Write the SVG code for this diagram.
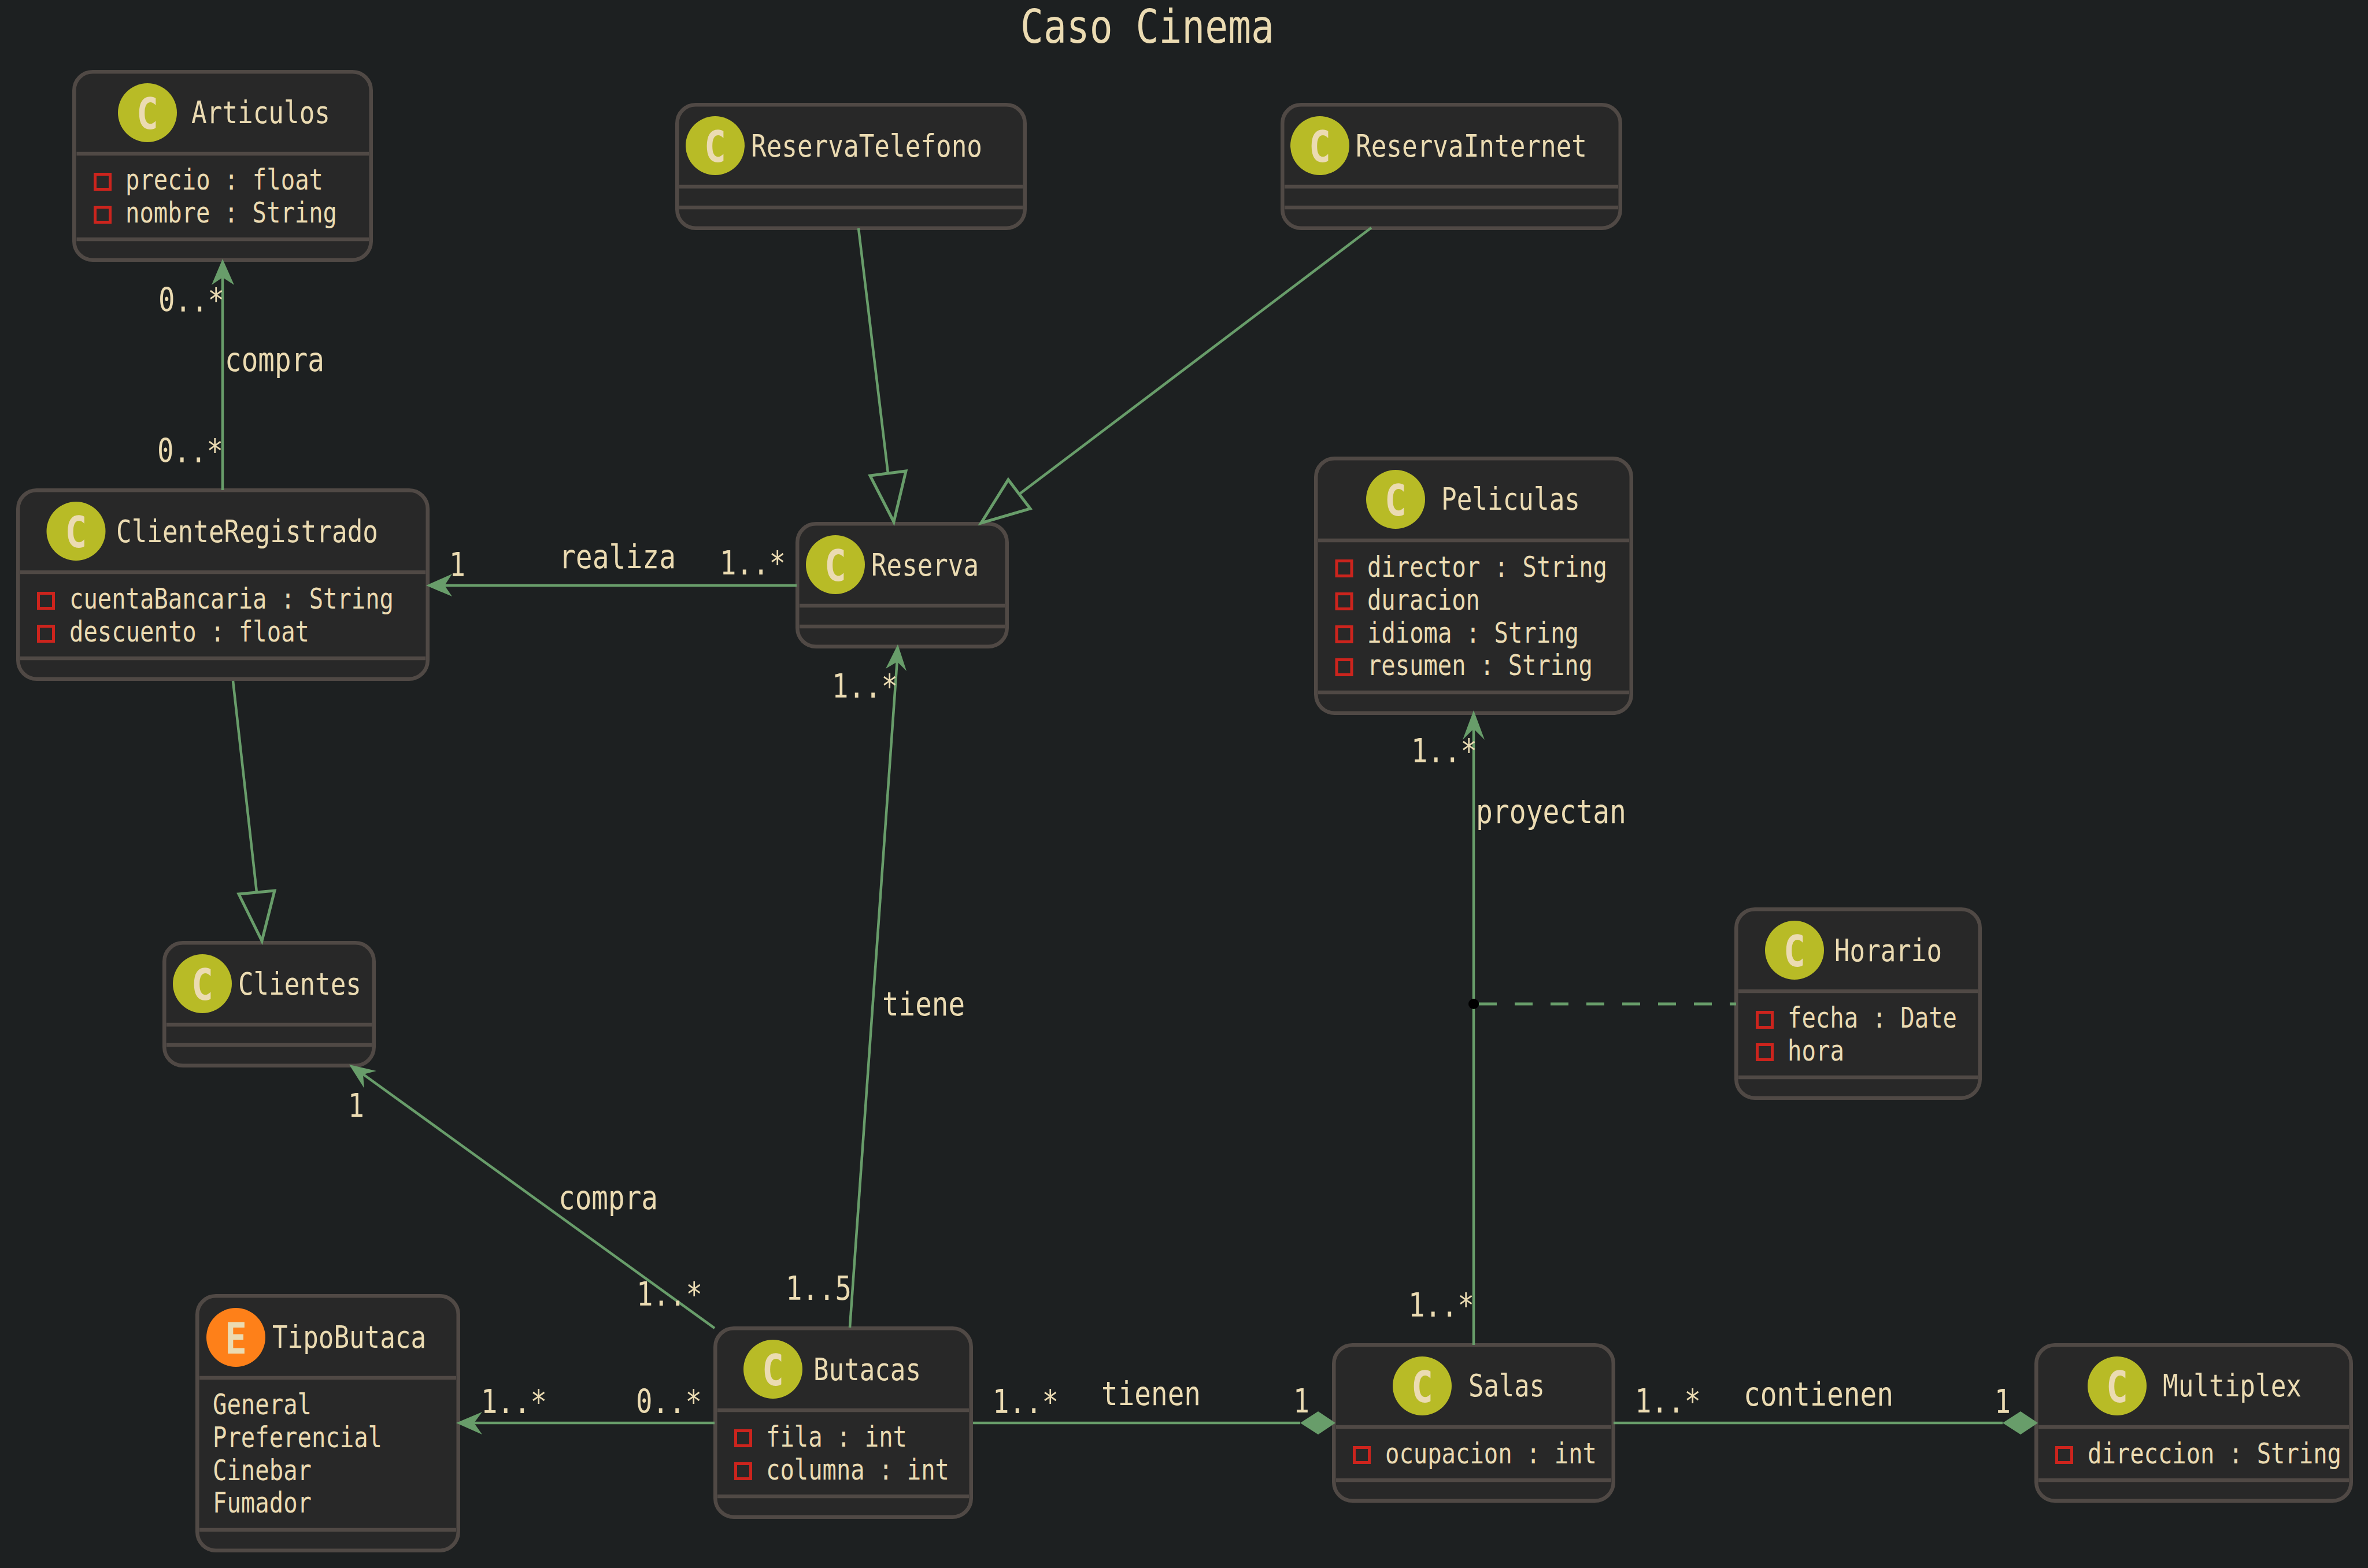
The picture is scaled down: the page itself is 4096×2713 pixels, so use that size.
<svg xmlns="http://www.w3.org/2000/svg" width="4096" height="2713" viewBox="0 0 4096 2713">
<style>
text{font-family:"DejaVu Sans Mono","Liberation Mono",monospace;fill:#ebdbb2}
.box{fill:#282828;stroke:#504945;stroke-width:6.5}
.sep{stroke:#504945;stroke-width:6.5}
.ci{fill:#b8bb26}
.en{fill:#fe8019}
.sp{font-size:75px;font-weight:bold}
.t{font-size:53px}
.a{font-size:49px}
.l{font-size:57px}
.h{font-size:81px}
.i{fill:none;stroke:#cc241d;stroke-width:5}
.c{fill:none;stroke:#689d6a;stroke-width:4.5}
.ah{fill:#689d6a;stroke:none}
.tr{fill:none;stroke:#689d6a;stroke-width:5}
.d{fill:none;stroke:#689d6a;stroke-width:5;stroke-dasharray:31 31}
</style>
<rect width="4096" height="2713" fill="#1d2021"/>
<text class="h" x="1765" y="74" textLength="439" lengthAdjust="spacingAndGlyphs">Caso Cinema</text>

<g id="Articulos">
<rect class="box" x="128.25" y="124.25" width="513.5" height="325.5" rx="32"/>
<path class="sep" d="M132.5 266H638M132.5 414H638"/>
<circle class="ci" cx="255" cy="195" r="51"/>
<text class="sp" x="236" y="223" textLength="38" lengthAdjust="spacingAndGlyphs">C</text>
<text class="t" x="331" y="213" textLength="240" lengthAdjust="spacingAndGlyphs">Articulos</text>
<rect class="i" x="164.5" y="301.5" width="26" height="26"/>
<text class="a" x="217" y="328" textLength="342" lengthAdjust="spacingAndGlyphs">precio : float</text>
<rect class="i" x="164.5" y="358.5" width="26" height="26"/>
<text class="a" x="217" y="385" textLength="366" lengthAdjust="spacingAndGlyphs">nombre : String</text>
</g>

<g id="ClienteRegistrado">
<rect class="box" x="31.25" y="848.25" width="708.5" height="326.5" rx="32"/>
<path class="sep" d="M35 990H736M35 1139H736"/>
<circle class="ci" cx="131.5" cy="919" r="51"/>
<text class="sp" x="112.5" y="947" textLength="38" lengthAdjust="spacingAndGlyphs">C</text>
<text class="t" x="201" y="938" textLength="453" lengthAdjust="spacingAndGlyphs">ClienteRegistrado</text>
<rect class="i" x="66.5" y="1026.5" width="26" height="26"/>
<text class="a" x="120" y="1053" textLength="561" lengthAdjust="spacingAndGlyphs">cuentaBancaria : String</text>
<rect class="i" x="66.5" y="1083.5" width="26" height="26"/>
<text class="a" x="120" y="1110" textLength="415" lengthAdjust="spacingAndGlyphs">descuento : float</text>
</g>

<g id="ReservaTelefono">
<rect class="box" x="1171.25" y="181.25" width="601.5" height="213.5" rx="32"/>
<path class="sep" d="M1175 323H1769M1175 359H1769"/>
<circle class="ci" cx="1237" cy="252" r="51"/>
<text class="sp" x="1218" y="280" textLength="38" lengthAdjust="spacingAndGlyphs">C</text>
<text class="t" x="1299" y="271" textLength="400" lengthAdjust="spacingAndGlyphs">ReservaTelefono</text>
</g>

<g id="ReservaInternet">
<rect class="box" x="2218.25" y="181.25" width="584.5" height="213.5" rx="32"/>
<path class="sep" d="M2222 323H2799M2222 359H2799"/>
<circle class="ci" cx="2283" cy="252" r="51"/>
<text class="sp" x="2264" y="280" textLength="38" lengthAdjust="spacingAndGlyphs">C</text>
<text class="t" x="2345" y="271" textLength="400" lengthAdjust="spacingAndGlyphs">ReservaInternet</text>
</g>

<g id="Reserva">
<rect class="box" x="1379.25" y="906.25" width="362.5" height="212.5" rx="32"/>
<path class="sep" d="M1383 1048H1738M1383 1084H1738"/>
<circle class="ci" cx="1445" cy="977" r="51"/>
<text class="sp" x="1426" y="1005" textLength="38" lengthAdjust="spacingAndGlyphs">C</text>
<text class="t" x="1507" y="996" textLength="186" lengthAdjust="spacingAndGlyphs">Reserva</text>
</g>

<g id="Peliculas">
<rect class="box" x="2276.25" y="793.25" width="545.5" height="440.5" rx="32"/>
<path class="sep" d="M2280 935H2818M2280 1198H2818"/>
<circle class="ci" cx="2414" cy="864" r="51"/>
<text class="sp" x="2395" y="892" textLength="38" lengthAdjust="spacingAndGlyphs">C</text>
<text class="t" x="2493" y="882" textLength="240" lengthAdjust="spacingAndGlyphs">Peliculas</text>
<rect class="i" x="2312" y="970.5" width="26" height="26"/>
<text class="a" x="2365" y="998" textLength="415" lengthAdjust="spacingAndGlyphs">director : String</text>
<rect class="i" x="2312" y="1027.5" width="26" height="26"/>
<text class="a" x="2365" y="1055" textLength="195" lengthAdjust="spacingAndGlyphs">duracion</text>
<rect class="i" x="2312" y="1084.5" width="26" height="26"/>
<text class="a" x="2365" y="1112" textLength="366" lengthAdjust="spacingAndGlyphs">idioma : String</text>
<rect class="i" x="2312" y="1141.5" width="26" height="26"/>
<text class="a" x="2365" y="1168" textLength="390" lengthAdjust="spacingAndGlyphs">resumen : String</text>
</g>

<g id="Horario">
<rect class="box" x="3003.25" y="1573.25" width="421.5" height="326.5" rx="32"/>
<path class="sep" d="M3007 1715H3421M3007 1864H3421"/>
<circle class="ci" cx="3104" cy="1644" r="51"/>
<text class="sp" x="3085" y="1672" textLength="38" lengthAdjust="spacingAndGlyphs">C</text>
<text class="t" x="3173" y="1663" textLength="186" lengthAdjust="spacingAndGlyphs">Horario</text>
<rect class="i" x="3039.5" y="1751.5" width="26" height="26"/>
<text class="a" x="3092" y="1778" textLength="293" lengthAdjust="spacingAndGlyphs">fecha : Date</text>
<rect class="i" x="3039.5" y="1807.5" width="26" height="26"/>
<text class="a" x="3092" y="1835" textLength="98" lengthAdjust="spacingAndGlyphs">hora</text>
</g>

<g id="Clientes">
<rect class="box" x="284.25" y="1631.25" width="362.5" height="212.5" rx="32"/>
<path class="sep" d="M288 1773H643M288 1808H643"/>
<circle class="ci" cx="350" cy="1702" r="51"/>
<text class="sp" x="331" y="1730" textLength="38" lengthAdjust="spacingAndGlyphs">C</text>
<text class="t" x="412" y="1721" textLength="213" lengthAdjust="spacingAndGlyphs">Clientes</text>
</g>

<g id="TipoButaca">
<rect class="box" x="341.25" y="2242.25" width="451.5" height="440.5" rx="32"/>
<path class="sep" d="M345 2384H789M345 2647H789"/>
<circle class="en" cx="408" cy="2314" r="51"/>
<text class="sp" x="389" y="2342" textLength="38" lengthAdjust="spacingAndGlyphs">E</text>
<text class="t" x="471" y="2332" textLength="266" lengthAdjust="spacingAndGlyphs">TipoButaca</text>
<text class="a" x="368" y="2447" textLength="171" lengthAdjust="spacingAndGlyphs">General</text>
<text class="a" x="368" y="2504" textLength="293" lengthAdjust="spacingAndGlyphs">Preferencial</text>
<text class="a" x="368" y="2561" textLength="171" lengthAdjust="spacingAndGlyphs">Cinebar</text>
<text class="a" x="368" y="2617" textLength="171" lengthAdjust="spacingAndGlyphs">Fumador</text>
</g>

<g id="Butacas">
<rect class="box" x="1237.25" y="2298.25" width="442.5" height="326.5" rx="32"/>
<path class="sep" d="M1241 2440H1676M1241 2589H1676"/>
<circle class="ci" cx="1337" cy="2369" r="51"/>
<text class="sp" x="1318" y="2397" textLength="38" lengthAdjust="spacingAndGlyphs">C</text>
<text class="t" x="1407" y="2388" textLength="186" lengthAdjust="spacingAndGlyphs">Butacas</text>
<rect class="i" x="1272.5" y="2475.5" width="26" height="26"/>
<text class="a" x="1325" y="2503" textLength="244" lengthAdjust="spacingAndGlyphs">fila : int</text>
<rect class="i" x="1272.5" y="2532.5" width="26" height="26"/>
<text class="a" x="1325" y="2560" textLength="317" lengthAdjust="spacingAndGlyphs">columna : int</text>
</g>

<g id="Salas">
<rect class="box" x="2307.25" y="2327.25" width="483.5" height="269.5" rx="32"/>
<path class="sep" d="M2311 2469H2787M2311 2561H2787"/>
<circle class="ci" cx="2460" cy="2398" r="51"/>
<text class="sp" x="2441" y="2426" textLength="38" lengthAdjust="spacingAndGlyphs">C</text>
<text class="t" x="2540" y="2416" textLength="132" lengthAdjust="spacingAndGlyphs">Salas</text>
<rect class="i" x="2342.5" y="2504.5" width="26" height="26"/>
<text class="a" x="2396" y="2532" textLength="366" lengthAdjust="spacingAndGlyphs">ocupacion : int</text>
</g>

<g id="Multiplex">
<rect class="box" x="3522.25" y="2327.25" width="544.5" height="269.5" rx="32"/>
<path class="sep" d="M3526 2469H4063M3526 2561H4063"/>
<circle class="ci" cx="3662" cy="2398" r="51"/>
<text class="sp" x="3643" y="2426" textLength="38" lengthAdjust="spacingAndGlyphs">C</text>
<text class="t" x="3741" y="2416" textLength="240" lengthAdjust="spacingAndGlyphs">Multiplex</text>
<rect class="i" x="3557.5" y="2504.5" width="26" height="26"/>
<text class="a" x="3611" y="2532" textLength="439" lengthAdjust="spacingAndGlyphs">direccion : String</text>
</g>

<g id="connectors">
<path class="c" d="M385 848V475"/>
<polygon class="ah" points="385,448 405,493 385,480 366,493"/>
<path class="c" d="M1378 1013H765"/>
<polygon class="ah" points="737,1013 782,993 769,1013 782,1032"/>
<path class="c" d="M403 1178L444 1544"/>
<polygon class="tr" points="453,1628 413,1547 475,1541"/>
<path class="c" d="M1485 395L1536 819"/>
<polygon class="tr" points="1546,903 1505,823 1567,815"/>
<path class="c" d="M2372 394L1763 855"/>
<polygon class="tr" points="1697,905 1744,830 1782,880"/>
<path class="c" d="M1470 2297L1552 1140"/>
<polygon class="ah" points="1553,1115 1568,1161 1552,1145 1532,1157"/>
<path class="c" d="M1236 2298L623 1855"/>
<polygon class="ah" points="604,1842 651,1853 628,1859 630,1883"/>
<path class="c" d="M1236 2462H815"/>
<polygon class="ah" points="789,2462 834,2443 820,2462 834,2482"/>
<path class="c" d="M1683 2462H2249"/>
<polygon class="ah" points="2310,2462 2280,2442 2249,2462 2280,2482"/>
<path class="c" d="M2791 2462H3464"/>
<polygon class="ah" points="3525,2462 3495,2442 3464,2462 3495,2482"/>
<path class="c" d="M2549 2327V1255"/>
<polygon class="ah" points="2549,1229 2568,1280 2549,1261 2530,1280"/>
<ellipse cx="2549" cy="1737" rx="9" ry="9" fill="#000"/>
<path class="d" d="M2558 1737H3003"/>
<text class="l" x="274" y="539" textLength="114" lengthAdjust="spacingAndGlyphs">0..*</text>
<text class="l" x="272" y="800" textLength="114" lengthAdjust="spacingAndGlyphs">0..*</text>
<text class="l" x="389" y="642" textLength="172" lengthAdjust="spacingAndGlyphs">compra</text>
<text class="l" x="777" y="997" textLength="28" lengthAdjust="spacingAndGlyphs">1</text>
<text class="l" x="1245" y="994" textLength="114" lengthAdjust="spacingAndGlyphs">1..*</text>
<text class="l" x="967" y="983" textLength="202" lengthAdjust="spacingAndGlyphs">realiza</text>
<text class="l" x="1439" y="1207" textLength="114" lengthAdjust="spacingAndGlyphs">1..*</text>
<text class="l" x="1526" y="1757" textLength="143" lengthAdjust="spacingAndGlyphs">tiene</text>
<text class="l" x="602" y="1933" textLength="28" lengthAdjust="spacingAndGlyphs">1</text>
<text class="l" x="966" y="2092" textLength="172" lengthAdjust="spacingAndGlyphs">compra</text>
<text class="l" x="1101" y="2259" textLength="114" lengthAdjust="spacingAndGlyphs">1..*</text>
<text class="l" x="1359" y="2249" textLength="114" lengthAdjust="spacingAndGlyphs">1..5</text>
<text class="l" x="832" y="2445" textLength="114" lengthAdjust="spacingAndGlyphs">1..*</text>
<text class="l" x="1100" y="2445" textLength="114" lengthAdjust="spacingAndGlyphs">0..*</text>
<text class="l" x="1717" y="2445" textLength="114" lengthAdjust="spacingAndGlyphs">1..*</text>
<text class="l" x="1905" y="2431" textLength="172" lengthAdjust="spacingAndGlyphs">tienen</text>
<text class="l" x="2237" y="2444" textLength="28" lengthAdjust="spacingAndGlyphs">1</text>
<text class="l" x="2828" y="2444" textLength="114" lengthAdjust="spacingAndGlyphs">1..*</text>
<text class="l" x="3016" y="2432" textLength="259" lengthAdjust="spacingAndGlyphs">contienen</text>
<text class="l" x="3450" y="2445" textLength="28" lengthAdjust="spacingAndGlyphs">1</text>
<text class="l" x="2441" y="1319" textLength="114" lengthAdjust="spacingAndGlyphs">1..*</text>
<text class="l" x="2553" y="1424" textLength="260" lengthAdjust="spacingAndGlyphs">proyectan</text>
<text class="l" x="2436" y="2278" textLength="114" lengthAdjust="spacingAndGlyphs">1..*</text>
</g>
</svg>
